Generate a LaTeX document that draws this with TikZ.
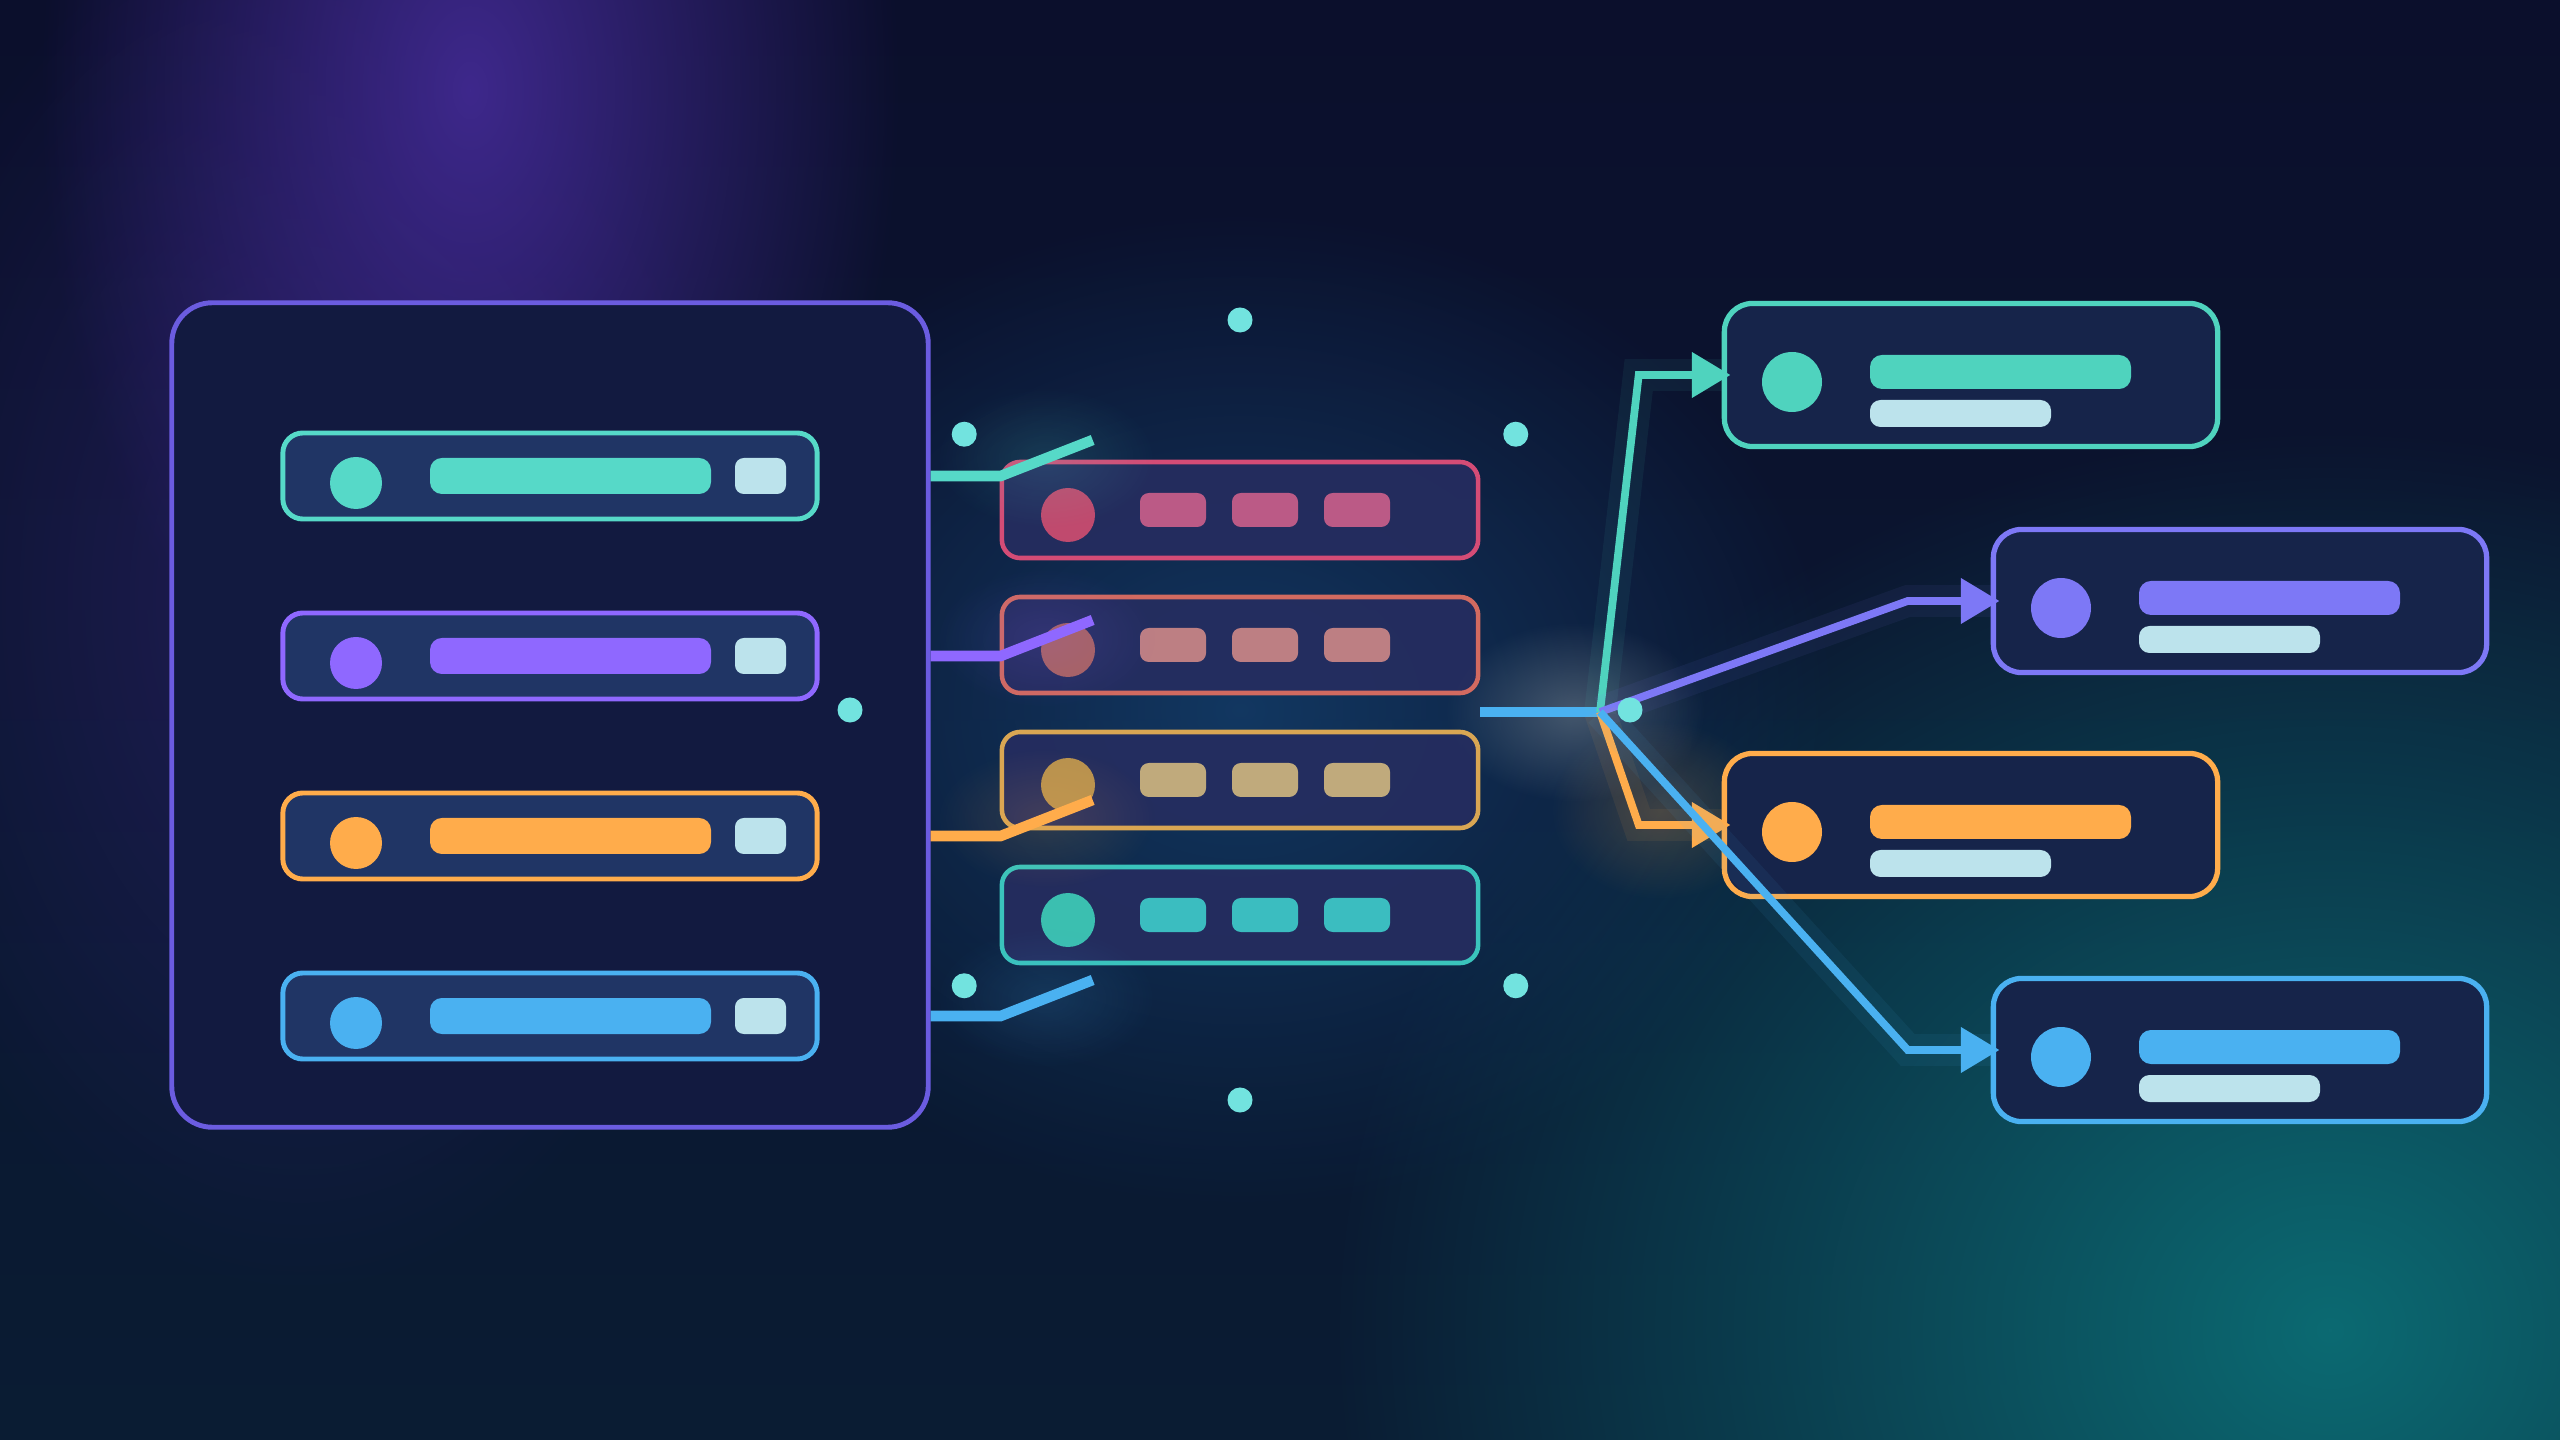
\documentclass[tikz,border=0pt]{standalone}
\usetikzlibrary{calc,arrows.meta,fadings}

\definecolor{bgtop}{HTML}{0B0F2C}
\definecolor{bgbot}{HTML}{0A1C33}
\definecolor{glowpurple}{HTML}{3E288C}
\definecolor{glowteal}{HTML}{0C6A72}
\definecolor{glowmid}{HTML}{14406E}
\definecolor{hubglow}{HTML}{6A7A88}
\definecolor{panelfill}{HTML}{121A40}
\definecolor{panelline}{HTML}{6B5CE0}
\definecolor{rowfill}{HTML}{203565}
\definecolor{cteal}{HTML}{56D9C8}
\definecolor{cviolet}{HTML}{8F68FF}
\definecolor{corange}{HTML}{FFAC4B}
\definecolor{cblue}{HTML}{4AB1F1}
\definecolor{cpale}{HTML}{BCE3EC}
\definecolor{cdot}{HTML}{72E3DF}
\definecolor{midfill}{HTML}{262D60}
\definecolor{outfill}{HTML}{16244A}
\definecolor{cindigo}{HTML}{7D78F6}
\definecolor{cteal2}{HTML}{4FD3BE}
% middle column: border, circle, pill
\definecolor{mb1}{HTML}{D44C76}\definecolor{mc1}{HTML}{C04A6E}\definecolor{mp1}{HTML}{BB5A86}
\definecolor{mb2}{HTML}{D26A60}\definecolor{mc2}{HTML}{A8625F}\definecolor{mp2}{HTML}{BD7F83}
\definecolor{mb3}{HTML}{D9A653}\definecolor{mc3}{HTML}{B8924F}\definecolor{mp3}{HTML}{C0AA7C}
\definecolor{mb4}{HTML}{3AC4BC}\definecolor{mc4}{HTML}{3BBFB0}\definecolor{mp4}{HTML}{3BBDC0}

\tikzfading[name=glowfade, inner color=transparent!0, outer color=transparent!100]

\begin{document}
\begin{tikzpicture}[x=0.01cm,y=-0.01cm,
    panel/.style={draw=panelline,fill=panelfill,line width=1.4pt,rounded corners=11.5pt,
      minimum width=7.56cm,minimum height=8.24cm},
    lrow/.style={fill=rowfill,line width=1.4pt,rounded corners=5.7pt,
      minimum width=5.34cm,minimum height=0.86cm},
    mbox/.style={fill=midfill,fill opacity=0.9,line width=1.3pt,rounded corners=5.2pt,
      minimum width=4.76cm,minimum height=0.96cm},
    rbox/.style={fill=outfill,line width=1.5pt,rounded corners=8pt,
      minimum width=4.93cm,minimum height=1.43cm},
    dot/.style={circle,fill=cdot,inner sep=0pt,minimum size=0.25cm},
    lconn/.style={line width=3pt},
    rconn/.style={line width=2.2pt,-{Triangle[length=11pt,width=12.5pt]},shorten >=-2.5pt},
    glow/.style={line width=9pt,opacity=0.07},
    hubline/.style={draw=cblue,line width=2.6pt}]
   \useasboundingbox (0,0) rectangle (2560,1440);
   % background and glows
   \fill[top color=bgtop,bottom color=bgbot] (0,0) rectangle (2560,1440);
   \fill[glowpurple,path fading=glowfade] (470,90) ellipse (430 and 700);
   \fill[glowpurple,path fading=glowfade,opacity=0.4] (300,600) ellipse (450 and 700);
   \fill[glowteal,path fading=glowfade] (2330,1330) ellipse (1000 and 900);
   \fill[glowmid,path fading=glowfade,opacity=0.8] (1240,710) ellipse (600 and 500);
   \fill[hubglow,path fading=glowfade,opacity=0.6] (1575,712) ellipse (130 and 90);
   \fill[corange,path fading=glowfade,opacity=0.2] (1660,810) ellipse (110 and 90);

   % source panel with four rows
   \node[panel] (src) at (550,715) {};
   \foreach \c [count=\i] in {cteal,cviolet,corange,cblue} {
     \node[lrow,draw=\c] (l_\i) at (550,{476+180*(\i-1)}) {};
     \fill[\c] ($(l_\i)+(-194,7)$) circle (26);
     \fill[\c,rounded corners=3.4pt] ($(l_\i)+(-120,-18)$) rectangle ($(l_\i)+(161,18)$);
     \fill[cpale,rounded corners=2.5pt] ($(l_\i)+(185,-18)$) rectangle ($(l_\i)+(236,18)$);
   }

   % middle column
   \foreach \i in {1,...,4} {
     \node[mbox,draw=mb\i] (m_\i) at (1240,{510+135*(\i-1)}) {};
     \fill[mc\i] ($(m_\i)+(-172,5)$) circle (27);
     \foreach \dx in {-67,25,117}
       \fill[mp\i,rounded corners=2.5pt] ($(m_\i)+(\dx-33,-17)$) rectangle ($(m_\i)+(\dx+33,17)$);
   }

   % links from the rows
   \foreach \c [count=\i] in {cteal,cviolet,corange,cblue} {
     \coordinate (e_\i) at ($(src.east |- l_\i)+(162,-36)$);
     \fill[\c,path fading=glowfade,opacity=0.14] ($(src.east |- l_\i)+(115,-18)$) ellipse (110 and 70);
     \draw[lconn,\c] (src.east |- l_\i) -- ++(70,0) -- (e_\i);
   }

   % targets
   \node[rbox,draw=cteal2] (r_1) at (1971,375) {};
   \node[rbox,draw=cindigo] (r_2) at (2240,601) {};
   \node[rbox,draw=corange] (r_3) at (1971,825) {};
   \node[rbox,draw=cblue] (r_4) at (2240,1050) {};
   \foreach \c [count=\i] in {cteal2,cindigo,corange,cblue} {
     \fill[\c] ($(r_\i)+(-179,7)$) circle (30);
     \fill[\c,rounded corners=3.4pt] ($(r_\i)+(-101,-20)$) rectangle ($(r_\i)+(160,14)$);
     \fill[cpale,rounded corners=3pt] ($(r_\i)+(-101,25)$) rectangle ($(r_\i)+(80,52)$);
   }

   % hub and fan-out
   \coordinate (hub) at (1600,712);
   \draw[hubline] (m_2.east |- hub) -- (hub);
   \foreach \c [count=\i] in {cteal2,cindigo,corange,cblue} {
     \draw[glow,\c] (hub) -- ($(r_\i.west)+(-83,0)$) -- (r_\i.west);
     \draw[rconn,\c] (hub) -- ($(r_\i.west)+(-83,0)$) -- (r_\i.west);
   }

   % dots
   \foreach \a in {0,45,...,315}
     \node[dot] (d_\a) at ($(1240,710)+(\a:390)$) {};
\end{tikzpicture}
\end{document}
